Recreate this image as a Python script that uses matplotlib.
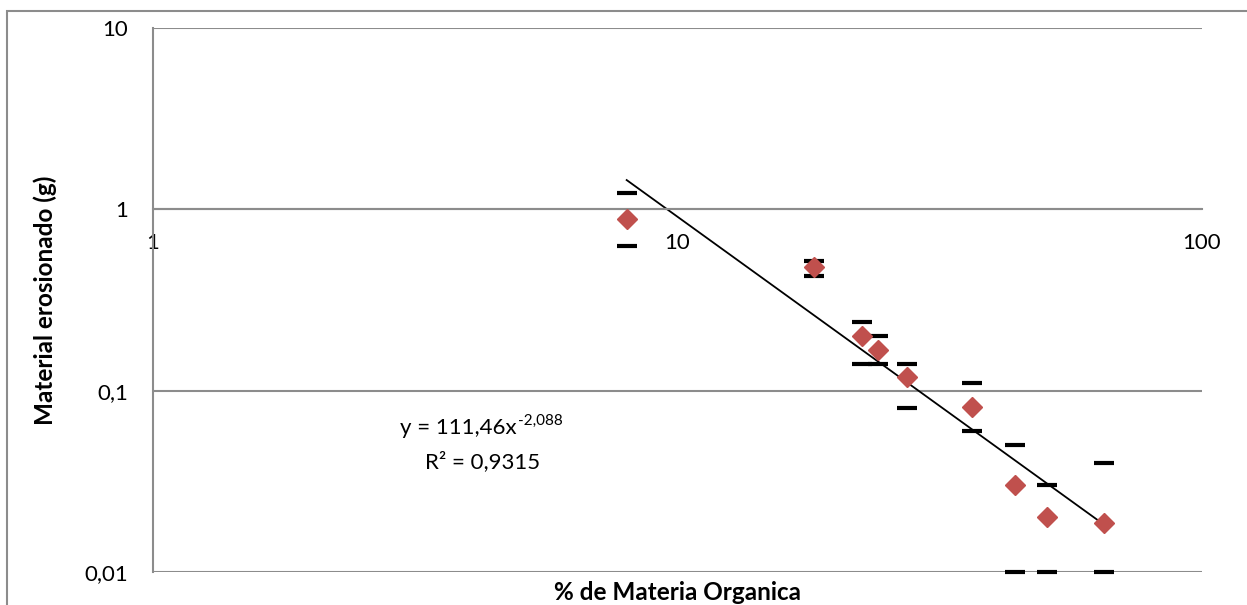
import numpy as np
import matplotlib
matplotlib.use("Agg")
import matplotlib.pyplot as plt
from matplotlib.patches import Rectangle
from matplotlib.transforms import IdentityTransform
from matplotlib.ticker import FixedLocator, FixedFormatter, NullLocator

plt.rcParams['font.family'] = ['Lato', 'DejaVu Sans']

# data
materia_organica = [8.0, 18.2, 22.5, 24.1, 27.4, 36.4, 44.0, 50.6, 65.1]
material_erosionado = [0.89, 0.48, 0.20, 0.167, 0.119, 0.081, 0.030, 0.020, 0.0186]
error_sup = [1.23, 0.52, 0.24, 0.20, 0.14, 0.11, 0.050, 0.030, 0.040]
error_inf = [0.63, 0.43, 0.14, 0.14, 0.08, 0.06, 0.010, 0.010, 0.010]

# power trend line shown on the chart
coef_a = 111.46
coef_b = -2.088
eq_main = "y = 111,46x"
eq_exp = "-2,088"
eq_r2 = "R² = 0,9315"

y_ticks = [0.01, 0.1, 1, 10]
y_labels = ["0,01", "0,1", "1", "10"]
x_ticks = [1, 10, 100]
x_labels = ["1", "10", "100"]

grey = "#8c8c8c"
red = "#c0504d"

W, H = 1247, 605
fig = plt.figure(figsize=(W / 100, H / 100), dpi=100)
ax = fig.add_axes([153 / W, 1 - 572 / H, (1202 - 153) / W, (572 - 28) / H])

# outer chart border
fig.patches.append(Rectangle((7 / W, -0.1), 1.2, (H - 10.5) / H + 0.1,
                             transform=fig.transFigure, fill=False,
                             edgecolor=grey, lw=1.5))

ax.set_xscale('log')
ax.set_yscale('log')
ax.set_xlim(1, 100)
ax.set_ylim(0.01, 10)

x = np.array(materia_organica)
y = np.array(material_erosionado)
lo = np.array(error_inf)
hi = np.array(error_sup)

# error bars (caps only)
eb = ax.errorbar(x, y, yerr=[y - lo, hi - y], fmt='none', ecolor='black',
                 elinewidth=0, capsize=7.5, capthick=3, zorder=3)
for cap in eb[1]:
    cap.set_clip_on(False)
for col in eb[2]:
    col.set_visible(False)

ax.plot(x, y, 'D', color=red, ms=10, mec=red, zorder=4, clip_on=False)

# trend line
xt = np.linspace(x.min(), x.max(), 100)
ax.plot(xt, coef_a * xt ** coef_b, color='black', lw=1.3, zorder=2)

# equation label, superscript as a separate text
t_main = fig.text(400, H - 428, eq_main, transform=IdentityTransform(),
                  ha='left', va='center', fontsize=16)
fig.canvas.draw()
bb = t_main.get_window_extent()
fig.text(bb.x1 + 1, H - 421, eq_exp, transform=IdentityTransform(),
         ha='left', va='center', fontsize=11)
fig.text(483, H - 462, eq_r2, transform=IdentityTransform(),
         ha='center', va='center', fontsize=16)

# axes styling (Excel-like)
for s in ['top', 'right']:
    ax.spines[s].set_visible(False)
ax.spines['left'].set_color(grey)
ax.spines['left'].set_linewidth(1.5)
ax.spines['bottom'].set_position(('data', 1))
ax.spines['bottom'].set_color(grey)
ax.spines['bottom'].set_linewidth(1.5)

ax.yaxis.set_major_locator(FixedLocator(y_ticks))
ax.yaxis.set_major_formatter(FixedFormatter(y_labels))
ax.yaxis.set_minor_locator(NullLocator())
ax.xaxis.set_major_locator(FixedLocator(x_ticks))
ax.xaxis.set_major_formatter(FixedFormatter(x_labels))
ax.xaxis.set_minor_locator(NullLocator())
ax.tick_params(axis='y', length=0, pad=18, labelsize=16)
ax.tick_params(axis='x', length=0, pad=17, labelsize=16)
ax.grid(axis='y', color=grey, lw=1.5)
ax.set_axisbelow(True)

fig.text(45 / W, 1 - 300 / H, "Material erosionado (g)", rotation=90,
         ha='center', va='center', fontsize=17.5, fontweight='bold')
fig.text(677 / W, 1 - 593 / H, "% de Materia Organica",
         ha='center', va='center', fontsize=17.5, fontweight='bold')

fig.savefig("out.png", dpi=100)
